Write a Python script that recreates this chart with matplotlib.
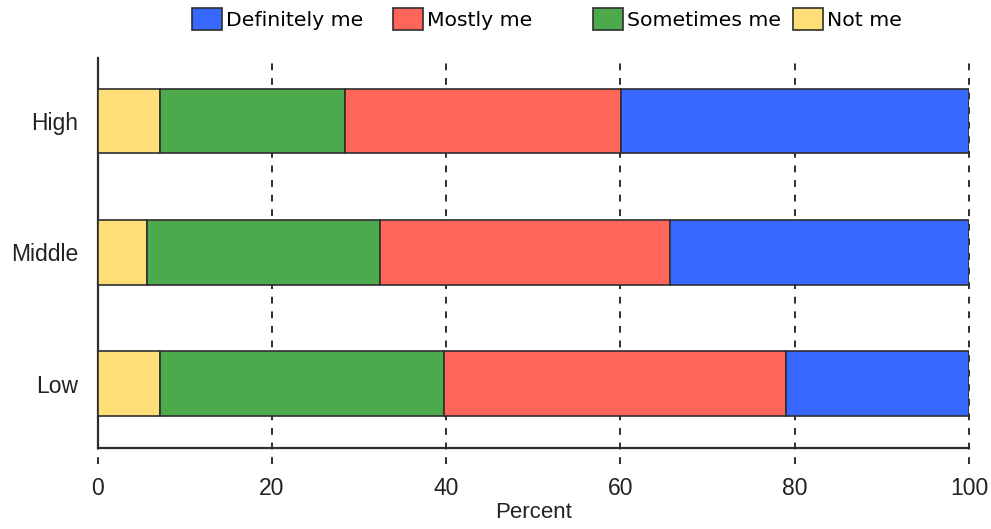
import numpy as np
import matplotlib
matplotlib.use("Agg")
import matplotlib.pyplot as plt
from matplotlib.patches import Patch
import matplotlib.transforms as mtransforms

# ----------------------------
# Data (percent)
# ----------------------------
groups = ["Low", "Middle", "High"]
not_me = [7.1, 5.7, 7.1]
sometimes_me = [32.7, 26.7, 21.3]
mostly_me = [39.2, 33.3, 31.7]
definitely_me = [21.0, 34.3, 39.9]

series = [
    ("Not me", not_me, "#FFDD77"),
    ("Sometimes me", sometimes_me, "#4CAA4C"),
    ("Mostly me", mostly_me, "#FF6659"),
    ("Definitely me", definitely_me, "#3768FF"),
]
legend_order = ["Definitely me", "Mostly me", "Sometimes me", "Not me"]
x_ticks = [0, 20, 40, 60, 80, 100]

TICK_FONT = "Liberation Sans"
EDGE = "#2e2e2e"

fig = plt.figure(figsize=(9.91, 5.29), dpi=100)
ax = fig.add_axes([0.0986, 0.1531, 0.8792, 0.7373])

y = np.arange(len(groups))
left = np.zeros(len(groups))
for name, vals, col in series:
    ax.barh(y, vals, left=left, height=0.49, color=col,
            edgecolor=EDGE, linewidth=1.2, zorder=3)
    left = left + np.array(vals)

ax.set_xlim(0, 100)
ax.set_ylim(-0.49, 2.48)

# dashed gridlines that poke out below the axis
trans = mtransforms.blended_transform_factory(ax.transData, ax.transAxes)
ax.vlines(x_ticks, -0.04, 1.0, transform=trans, colors=EDGE,
          linestyles=(0, (3.5, 4)), linewidth=1.4, clip_on=False, zorder=1)

for s in ["top", "right"]:
    ax.spines[s].set_visible(False)
for s in ["left", "bottom"]:
    ax.spines[s].set_color(EDGE)
    ax.spines[s].set_linewidth(1.6)

ax.set_xticks(x_ticks)
ax.set_yticks(y)
ax.set_yticklabels(groups)
ax.tick_params(axis="x", length=0, pad=21, labelsize=16.5, labelcolor="#222222")
ax.tick_params(axis="y", length=0, pad=14, labelsize=16.5, labelcolor="#222222")
for lab in ax.get_xticklabels() + ax.get_yticklabels():
    lab.set_fontfamily(TICK_FONT)
ax.set_xlabel("Percent", fontsize=16, fontfamily=TICK_FONT, color="#222222", labelpad=1)

# legend, evenly spaced entries across the top
colors = {name: col for name, _, col in series}
legend_x = [192, 393, 593, 793]
for name, px in zip(legend_order, legend_x):
    h = Patch(facecolor=colors[name], edgecolor=EDGE, linewidth=1.2)
    fig.legend([h], [name], loc="center left",
               bbox_to_anchor=(px / 991, 1 - 19 / 529),
               frameon=False, borderpad=0, borderaxespad=0,
               handlelength=1.45, handleheight=1.28, handletextpad=0.2,
               prop={"family": "DejaVu Sans", "size": 14.7})

fig.savefig("out.png", dpi=100)
